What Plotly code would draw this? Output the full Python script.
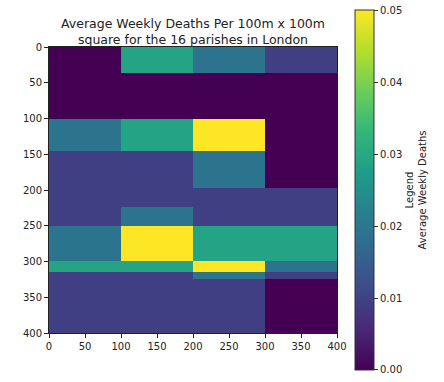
import plotly.graph_objects as go

# column edges (m) and row edges (m)
x_edges = [0, 100, 200, 300, 400]
y_edges = [0, 36, 100, 145, 197, 224, 250, 299, 315, 324, 400]

# average weekly deaths per cell, rows top->bottom, columns left->right
row_0 = [0.0, 0.029, 0.019, 0.0095]
row_1 = [0.0, 0.0, 0.0, 0.0]
row_2 = [0.019, 0.029, 0.05, 0.0]
row_3 = [0.0095, 0.0095, 0.019, 0.0]
row_4 = [0.0095, 0.0095, 0.0095, 0.0095]
row_5 = [0.0095, 0.019, 0.0095, 0.0095]
row_6 = [0.019, 0.05, 0.029, 0.029]
row_7 = [0.029, 0.029, 0.05, 0.019]
row_8 = [0.0095, 0.0095, 0.019, 0.0095]
row_9 = [0.0095, 0.0095, 0.0095, 0.0]
z = [row_0, row_1, row_2, row_3, row_4, row_5, row_6, row_7, row_8, row_9]

tick_vals = [0, 50, 100, 150, 200, 250, 300, 350, 400]
cbar_ticks = [0.0, 0.01, 0.02, 0.03, 0.04, 0.05]
cbar_labels = ["0.00", "0.01", "0.02", "0.03", "0.04", "0.05"]

# page body margin is removed below, so the figure fills the window
W, H = 444, 382
L, T = 49, 47
R = W - 337
B = H - 333
plot_h = H - T - B
plot_w = W - L - R

ZMAX = 0.05
# keep edge ticks just inside the bar so plotly does not drop them
eps = 1e-6
cbar_pos = [min(max(v, eps), ZMAX - eps) for v in cbar_ticks]

fig = go.Figure(go.Heatmap(
    x=x_edges, y=y_edges, z=z,
    colorscale="Viridis", zmin=0, zmax=ZMAX,
    colorbar=dict(
        thickness=19, thicknessmode="pixels",
        len=360, lenmode="pixels",
        x=(355 - L) / plot_w, xanchor="left", xpad=0,
        y=(H - B - 10) / plot_h, yanchor="top", ypad=0,
        outlinewidth=1, outlinecolor="#333",
        tickmode="array", tickvals=cbar_pos, ticktext=cbar_labels,
        ticklabeloverflow="allow",
        ticks="outside", ticklen=4, tickcolor="#333",
        tickfont=dict(family="DejaVu Sans", size=10, color="#222"),
        title=dict(text="Legend<br>Average Weekly Deaths", side="right",
                   font=dict(family="DejaVu Sans", size=10, color="#222")),
    ),
))

axis_common = dict(
    showgrid=False, zeroline=False,
    showline=True, linecolor="#222", linewidth=1, mirror=True,
    ticks="outside", ticklen=4, tickcolor="#222",
    tickvals=tick_vals,
    tickfont=dict(family="DejaVu Sans", size=10, color="#222"),
)
fig.update_xaxes(range=[0, 400], **axis_common)
fig.update_yaxes(range=[400, 0], **axis_common)

fig.update_layout(
    width=W, height=H,
    margin=dict(l=L, r=R, t=T, b=B, autoexpand=False),
    paper_bgcolor="white", plot_bgcolor="white",
    title=dict(text="Average Weekly Deaths Per 100m x 100m<br>square for the 16 parishes in London",
               x=(L + plot_w / 2) / W, xanchor="center",
               y=1 - 27.5 / H, yanchor="middle",
               font=dict(family="DejaVu Sans", size=12.5, color="#222")),
)

fig.write_html("out.html",
               config={"displayModeBar": False},
               post_script="document.body.style.margin='0';document.body.style.overflow='hidden';")
